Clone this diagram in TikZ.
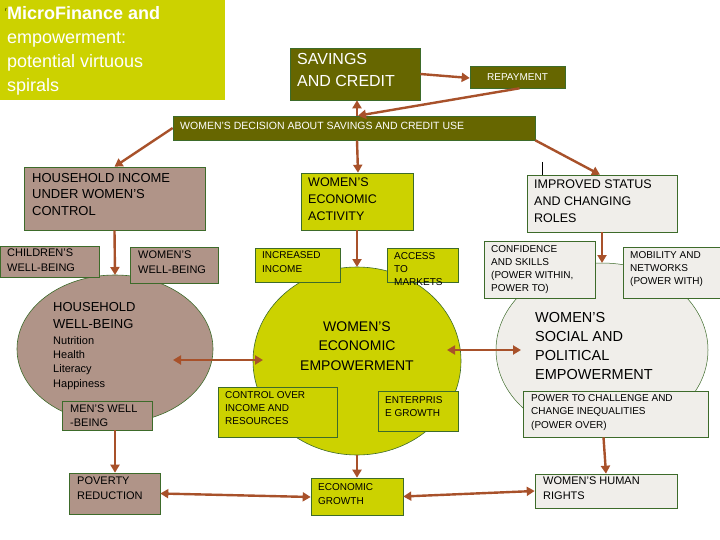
\documentclass[tikz,border=0pt]{standalone}
\usepackage{fontspec}
\setmainfont{Liberation Sans}
\usetikzlibrary{arrows.meta}
\definecolor{lime}{HTML}{CCD200}
\definecolor{olive}{HTML}{666600}
\definecolor{rose}{HTML}{B09488}
\definecolor{pale}{HTML}{F0EEEA}
\definecolor{edge}{HTML}{3D6B2A}
\definecolor{arr}{HTML}{A8512A}
\begin{document}
\begin{tikzpicture}[x=1pt,y=-1pt,
 bx/.style={draw=edge,line width=0.6pt,inner sep=0pt},
 t/.style={align=left,anchor=north west,inner sep=0pt,font=\fontsize{10}{13}\selectfont},
 tb/.style={align=left,anchor=north west,inner sep=0pt,font=\fontsize{13}{16.5}\selectfont},
 a/.style={draw=arr,line width=2.4pt,-{Triangle[length=8pt,width=9pt]}},
 aa/.style={draw=arr,line width=2.4pt,{Triangle[length=8pt,width=9pt]}-{Triangle[length=8pt,width=9pt]}}]
\useasboundingbox (0,0) rectangle (720,540);
\fill[white] (0,0) rectangle (720,540);
% title
\fill[lime] (0,0) rectangle (225,100);
\node[anchor=north west,inner sep=0pt,font=\fontsize{5}{5}\selectfont] (r) at (5,9) {r};
\node[anchor=north west,inner sep=0pt,align=left,text=white,font=\fontsize{18}{24}\selectfont] (title) at (7,6) {\textbf{MicroFinance and}\\empowerment:\\potential virtuous\\spirals};
% ellipses
\draw[edge,fill=rose,line width=0.6pt] (115,349) ellipse (98 and 74);
\draw[edge,fill=lime,line width=0.6pt] (357,361) ellipse (104 and 94);
\draw[edge,fill=pale,line width=0.5pt] (602,350) ellipse (106 and 87);
% top
\node[bx,fill=olive,minimum width=130,minimum height=52] (sav) at (355,74) {};
\node[tb,text=white,font=\fontsize{16}{22}\selectfont] at (297,53) {SAVINGS\\AND CREDIT};
\node[bx,fill=olive,minimum width=95,minimum height=22,text=white,font=\fontsize{10}{12}\selectfont] (rep) at (517.5,77) {REPAYMENT};
\node[bx,fill=olive,minimum width=362,minimum height=24] (dec) at (354,128) {};
\node[t,text=white,font=\fontsize{10.5}{12}\selectfont] at (180,122) {WOMEN'S DECISION ABOUT SAVINGS AND CREDIT USE};
% left
\node[bx,fill=rose,minimum width=181,minimum height=63] (hhi) at (114.5,198.5) {};
\node[tb] at (32,173) {HOUSEHOLD INCOME\\UNDER WOMEN'S\\CONTROL};
\node[bx,fill=rose,minimum width=99,minimum height=31] (chi) at (49.5,261.5) {};
\node[t,font=\fontsize{11}{15}\selectfont] at (7,249) {CHILDREN'S\\WELL-BEING};
\node[bx,fill=rose,minimum width=88,minimum height=36] (wwb) at (174,265) {};
\node[t,font=\fontsize{11}{15}\selectfont] at (138,251) {WOMEN'S\\WELL-BEING};
\node[t,font=\fontsize{13}{17}\selectfont] (hhw) at (53,302) {HOUSEHOLD\\WELL-BEING};
\node[t,font=\fontsize{11}{14.3}\selectfont] (hhl) at (53,336) {Nutrition\\Health\\Literacy\\Happiness};
\node[bx,fill=rose,minimum width=90,minimum height=29] (men) at (107,415.5) {};
\node[t,font=\fontsize{11}{14}\selectfont] at (70,405) {MEN'S WELL\\-BEING};
\node[bx,fill=rose,minimum width=91,minimum height=41] (pov) at (114.5,493.5) {};
\node[t,font=\fontsize{11}{15}\selectfont] at (77,477) {POVERTY\\REDUCTION};
% middle
\node[bx,fill=lime,minimum width=112,minimum height=57] (wea) at (357,201.5) {};
\node[t,font=\fontsize{12.5}{17}\selectfont] at (308,178) {WOMEN'S\\ECONOMIC\\ACTIVITY};
\node[bx,fill=lime,minimum width=85,minimum height=34] (inc) at (297.5,265) {};
\node[t,font=\fontsize{10}{14}\selectfont] at (262,251) {INCREASED\\INCOME};
\node[bx,fill=lime,minimum width=71,minimum height=34] (acc) at (422.5,265) {};
\node[t,font=\fontsize{10}{13}\selectfont] at (394,252) {ACCESS\\TO\\MARKETS};
\node[align=center,inner sep=0pt,font=\fontsize{14}{19.5}\selectfont] (wee) at (357,346) {WOMEN'S\\ECONOMIC\\EMPOWERMENT};
\node[bx,fill=lime,minimum width=119,minimum height=50] (ctl) at (277.5,412) {};
\node[t,font=\fontsize{10}{13}\selectfont] at (225,391) {CONTROL OVER\\INCOME AND\\RESOURCES};
\node[bx,fill=lime,minimum width=80,minimum height=40] (ent) at (418,411) {};
\node[t,font=\fontsize{10}{13}\selectfont] at (385,396) {ENTERPRIS\\E GROWTH};
\node[bx,fill=lime,minimum width=92,minimum height=37] (eco) at (357,496.5) {};
\node[t,font=\fontsize{10}{14}\selectfont] at (318,483) {ECONOMIC\\GROWTH};
% right
\draw[black,line width=0.5pt] (542,162) -- (542,175);
\node[bx,fill=pale,minimum width=150,minimum height=57] (imp) at (602,203.5) {};
\node[tb,font=\fontsize{12.5}{17}\selectfont] at (534,180) {IMPROVED STATUS\\AND CHANGING\\ROLES};
\node[bx,fill=pale,minimum width=111,minimum height=57] (con) at (539.5,269.5) {};
\node[t,font=\fontsize{10}{13}\selectfont] at (491,245) {CONFIDENCE\\AND SKILLS\\(POWER WITHIN,\\POWER TO)};
\node[bx,fill=pale,minimum width=97,minimum height=51] (mob) at (671.5,272.5) {};
\node[t,font=\fontsize{10}{13}\selectfont] at (630,251) {MOBILITY AND\\NETWORKS\\(POWER WITH)};
\node[t,font=\fontsize{14.5}{19}\selectfont] (wsp) at (535,312) {WOMEN'S\\SOCIAL AND\\POLITICAL\\EMPOWERMENT};
\node[bx,fill=pale,minimum width=185,minimum height=46] (pow) at (615.5,414) {};
\node[t,font=\fontsize{10}{13.5}\selectfont] at (531,394) {POWER TO CHALLENGE AND\\CHANGE INEQUALITIES\\(POWER OVER)};
\node[bx,fill=pale,minimum width=142,minimum height=34] (hr) at (606,491) {};
\node[t,font=\fontsize{11}{15}\selectfont] at (543,477) {WOMEN'S HUMAN\\RIGHTS};
% arrows
\coordinate (hhe) at (173,360); \coordinate (gl) at (263,360);
\coordinate (gr) at (447,350); \coordinate (sl) at (521,350);
\coordinate (hht) at (115,275); \coordinate (gt) at (357,267); \coordinate (gb) at (357,455); \coordinate (st) at (602,263);
\draw[a] (sav.east|-0,74) -- (rep.west|-0,78);
\draw[a] ([xshift=2]rep.south) -- ([xshift=4]dec.north);
\draw[a] ([xshift=3]dec.north) -- ([xshift=2]sav.south);
\draw[a] (dec.west) -- ([xshift=0]hhi.north);
\draw[a] ([xshift=3]dec.south) -- ([xshift=1]wea.north);
\draw[a] (dec.south east) -- ([xshift=-2]imp.north);
\draw[a] (hhi.south) -- (hht);
\draw[a] ([xshift=8]men.south) -- ([xshift=0.5]pov.north);
\draw[aa] (hhe) -- (gl);
\draw[a] (wea.south) -- (gt);
\draw[a] (gb) -- (eco.north);
\draw[aa] (pov.east) -- (eco.west|-0,497);
\draw[aa] (gr) -- (sl);
\draw[a] (imp.south) -- (st);
\draw[a] ([xshift=-12]pow.south) -- ([xshift=0]hr.north);
\draw[aa] (eco.east) -- (hr.west);
\end{tikzpicture}
\end{document}
